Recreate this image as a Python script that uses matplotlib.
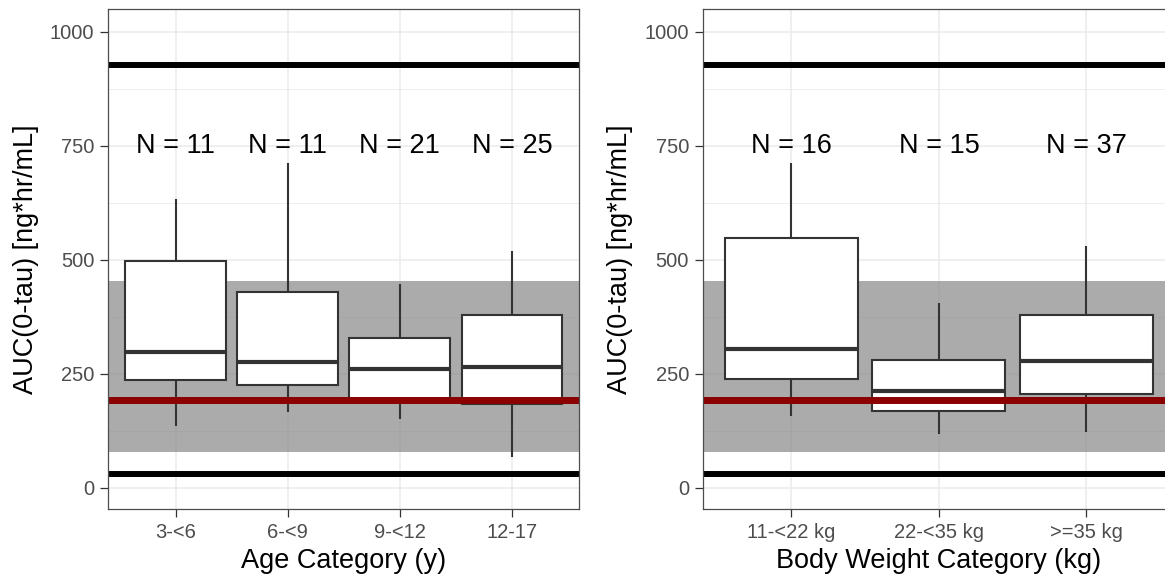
import matplotlib
matplotlib.use("Agg")
import matplotlib.pyplot as plt

plt.rcParams['font.family'] = ['Liberation Sans', 'DejaVu Sans']

# ---------------- data ----------------
age_categories = ["3-<6", "6-<9", "9-<12", "12-17"]
age_n = [11, 11, 21, 25]
age_q1 = [237, 224, 192, 184]
age_median = [297, 276, 260, 264]
age_q3 = [498, 428, 328, 379]
age_whislo = [135, 165, 150, 68]
age_whishi = [632, 711, 447, 519]

wt_categories = ["11-<22 kg", "22-<35 kg", ">=35 kg"]
wt_n = [16, 15, 37]
wt_q1 = [238, 168, 205]
wt_median = [304, 213, 277]
wt_q3 = [547, 281, 378]
wt_whislo = [157, 118, 122]
wt_whishi = [713, 404, 530]

ref_band = (77.6, 454)        # shaded reference range
ref_red = 193                 # red reference line
ref_black = [30.7, 926]       # black limit lines
y_ticks = [0, 250, 500, 750, 1000]
y_minor = [125, 375, 625, 875]
n_label_y = 750

ylabel = "AUC(0-tau) [ng*hr/mL]"
age_xlabel = "Age Category (y)"
wt_xlabel = "Body Weight Category (kg)"

# ---------------- figure ----------------
W, H = 1165, 575
fig = plt.figure(figsize=(W / 100, H / 100), dpi=100)
bottom = (H - 509.3) / H
height = 500 / H
ax1 = fig.add_axes([108.3 / W, bottom, 471 / W, height])
ax2 = fig.add_axes([702.8 / W, bottom, 472.2 / W, height])

box_col = '#333333'


def panel(ax, cats, ns, q1, med, q3, lo, hi, xlabel):
    stats = []
    for i in range(len(cats)):
        stats.append(dict(q1=q1[i], med=med[i], q3=q3[i],
                          whislo=lo[i], whishi=hi[i], fliers=[]))
    pos = list(range(len(cats)))
    ax.set_axisbelow(True)
    ax.axhspan(ref_band[0], ref_band[1], color='#7F7F7F', alpha=0.65,
               lw=0, zorder=1)
    ax.bxp(stats, positions=pos, widths=0.9, patch_artist=True,
           showfliers=False, showcaps=False, manage_ticks=False,
           boxprops=dict(facecolor='white', edgecolor=box_col, lw=1.5),
           medianprops=dict(color=box_col, lw=3, solid_capstyle='butt'),
           whiskerprops=dict(color=box_col, lw=1.5, solid_capstyle='butt'),
           zorder=3)
    ax.axhline(ref_red, color='#8B0000', lw=5, zorder=4)
    for v in ref_black:
        ax.axhline(v, color='black', lw=4.3, zorder=4)
    for i, n in enumerate(ns):
        ax.text(pos[i], n_label_y, f"N = {n}", ha='center', va='center',
                fontsize=19.5, color='black', zorder=5)

    ax.set_xlim(-0.6, len(cats) - 1 + 0.6)
    ax.set_ylim(-47.5, 1049)
    ax.set_xticks(pos)
    ax.set_xticklabels(cats)
    ax.set_yticks(y_ticks)
    ax.set_yticks(y_minor, minor=True)
    ax.grid(which='major', color='#EBEBEB', lw=1.1)
    ax.grid(which='minor', axis='y', color='#EBEBEB', lw=0.6)
    ax.tick_params(which='major', length=6, width=0.9, color='#333333',
                   labelsize=14.5, labelcolor='#4D4D4D', pad=4)
    ax.tick_params(which='minor', length=0)
    for s in ax.spines.values():
        s.set_color('#4D4D4D')
        s.set_linewidth(0.9)
        s.set_zorder(6)
    ax.set_ylabel(ylabel, fontsize=19.5, labelpad=8)
    ax.set_xlabel(xlabel, fontsize=19.5, labelpad=4)


panel(ax1, age_categories, age_n, age_q1, age_median, age_q3,
      age_whislo, age_whishi, age_xlabel)
panel(ax2, wt_categories, wt_n, wt_q1, wt_median, wt_q3,
      wt_whislo, wt_whishi, wt_xlabel)

fig.savefig("out.png", dpi=100)
